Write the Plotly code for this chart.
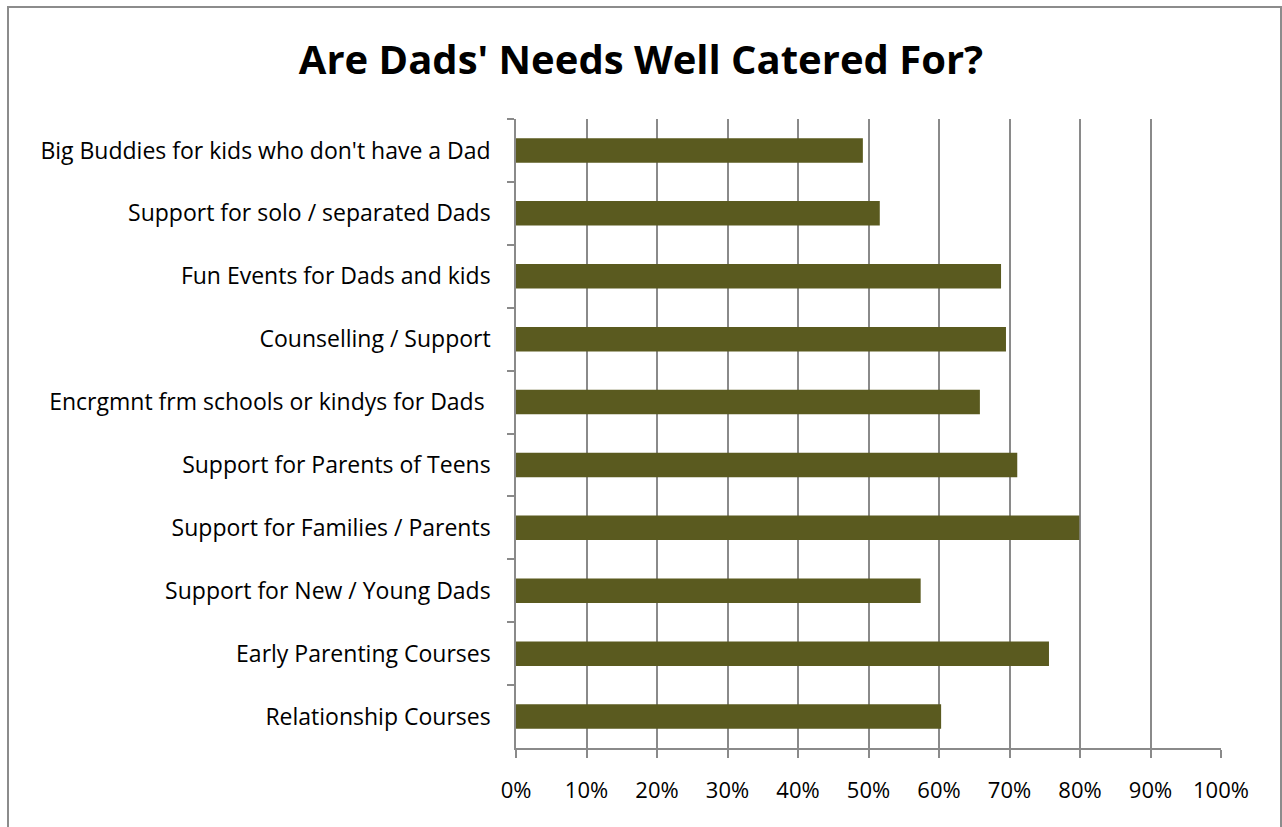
import plotly.graph_objects as go

categories = [
    "Big Buddies for kids who don't have a Dad",
    "Support for solo / separated Dads",
    "Fun Events for Dads and kids",
    "Counselling / Support",
    "Encrgmnt frm schools or kindys for Dads ",
    "Support for Parents of Teens",
    "Support for Families / Parents",
    "Support for New / Young Dads",
    "Early Parenting Courses",
    "Relationship Courses",
]
values = [0.492, 0.516, 0.688, 0.695, 0.658, 0.711, 0.799, 0.574, 0.756, 0.603]
x_ticks = [0, 0.1, 0.2, 0.3, 0.4, 0.5, 0.6, 0.7, 0.8, 0.9, 1.0]

FONT = "Open Sans"
GRID = "#8a8a8a"

fig = go.Figure(go.Bar(
    x=values, y=categories, orientation="h",
    marker=dict(color="#5a5a1f", line=dict(width=0)),
    hoverinfo="x+y",
))

L, R, T, B = 516, 1221, 119, 748
W, H = 1282, 827
pw, ph = R - L, B - T

def px(xp):
    return (xp - L) / pw

def py(yp):
    return (B - yp) / ph

fig.update_layout(
    width=W, height=H,
    margin=dict(l=L, r=W - R, t=T, b=H - B, pad=0),
    paper_bgcolor="white", plot_bgcolor="white",
    bargap=0.61,
    showlegend=False,
    title=dict(text="<b>Are Dads' Needs Well Catered For?</b>",
               x=0.5, xref="container", xanchor="center",
               y=1 - 60 / H, yref="container", yanchor="middle",
               font=dict(family=FONT, size=40, color="black")),
    font=dict(family=FONT, size=23, color="black"),
    xaxis=dict(
        range=[0, 1], tickvals=x_ticks, tickformat=".0%",
        showgrid=True, gridcolor=GRID, gridwidth=1.5,
        showline=True, linecolor=GRID, linewidth=1.5,
        ticks="outside", ticklen=8, tickcolor=GRID, tickwidth=1.5,
        zeroline=False, fixedrange=True,
        tickfont=dict(family=FONT, size=22, color="black"),
        ticklabelstandoff=14,
    ),
    yaxis=dict(
        autorange="reversed",
        showline=True, linecolor=GRID, linewidth=1.5,
        ticks="outside", ticklen=7, tickcolor=GRID, tickwidth=1.5,
        tickson="boundaries", showgrid=False,
        tickfont=dict(family=FONT, size=23, color="black"),
        ticklabelstandoff=19,
    ),
    shapes=[dict(type="rect", xref="paper", yref="paper",
                 x0=px(8), x1=px(1281), y0=py(845), y1=py(7),
                 line=dict(color="#8c8c8c", width=2), fillcolor="rgba(0,0,0,0)",
                 layer="below")],
)

fig.write_html("out.html")
